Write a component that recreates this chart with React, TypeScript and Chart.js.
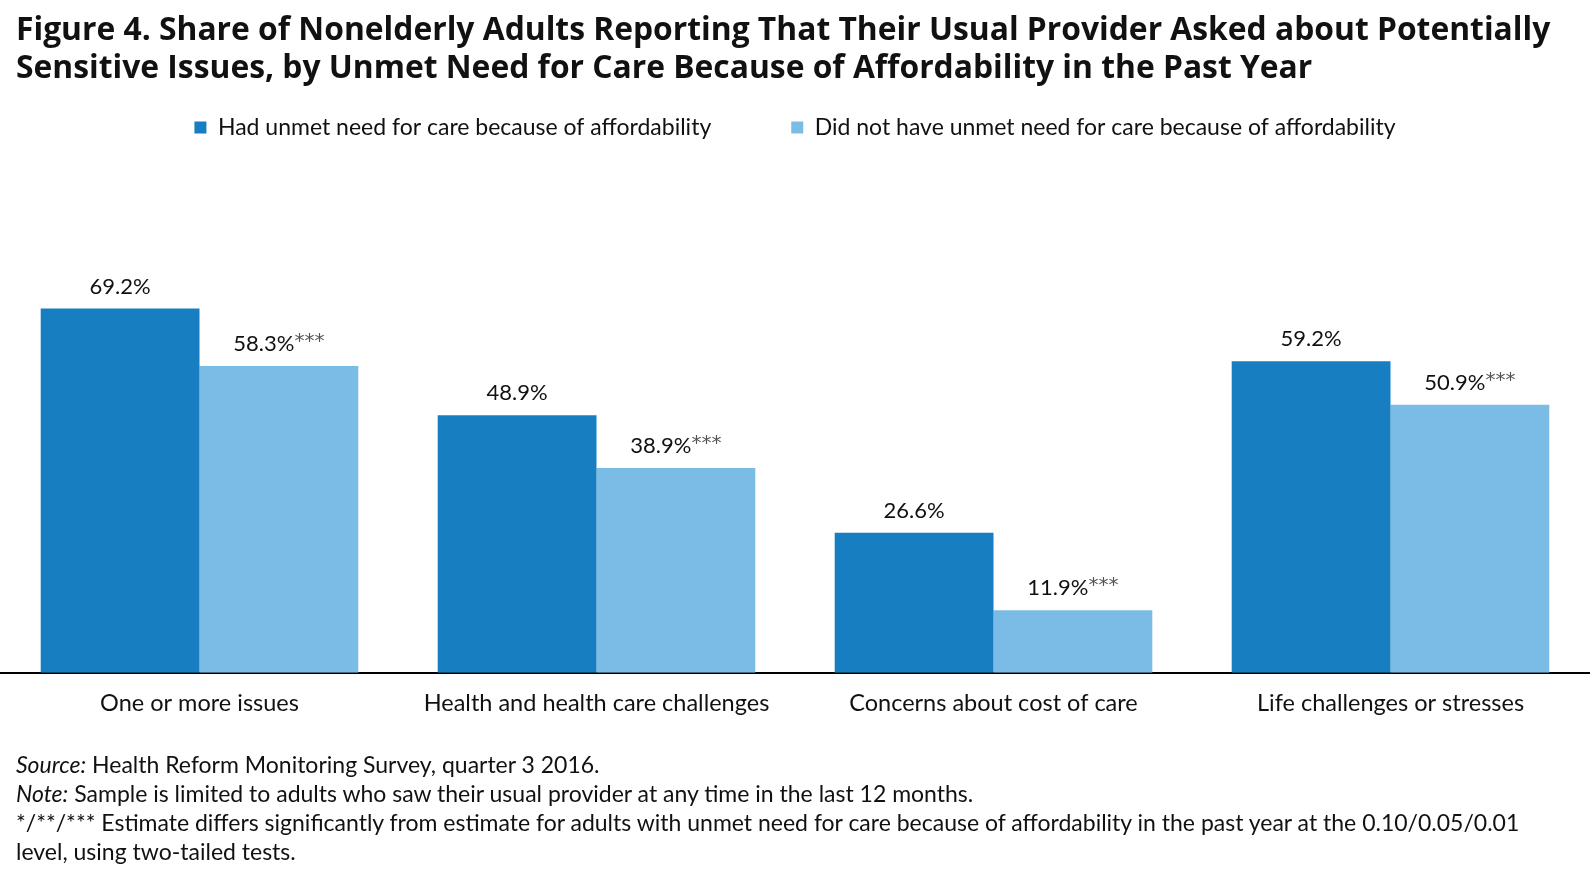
import React, { useEffect, useRef } from "react";
import { Chart, registerables } from "chart.js";

Chart.register(...registerables);

const categories = [
  "One or more issues",
  "Health and health care challenges",
  "Concerns about cost of care",
  "Life challenges or stresses",
];
const seriesNames = [
  "Had unmet need for care because of affordability",
  "Did not have unmet need for care because of affordability",
];
const hadUnmet = [69.2, 48.9, 26.6, 59.2];
const noUnmet = [58.3, 38.9, 11.9, 50.9];
const noUnmetStars = ["***", "***", "***", "***"];
const colors = ["#177FC1", "#7BBCE6"];
const FONT = "Lato, 'Open Sans', sans-serif";

const labelPlugin = {
  id: "barLabels",
  afterDatasetsDraw(chart: any) {
    const ctx = chart.ctx;
    ctx.save();
    ctx.textBaseline = "middle";
    chart.data.datasets.forEach((ds: any, di: number) => {
      const meta = chart.getDatasetMeta(di);
      meta.data.forEach((bar: any, i: number) => {
        const main = `${ds.data[i].toFixed(1)}%`;
        const stars = di === 1 ? noUnmetStars[i] : "";
        ctx.font = `22px ${FONT}`;
        const wMain = ctx.measureText(main).width;
        ctx.font = `20px 'DejaVu Sans', sans-serif`;
        const wStars = stars ? ctx.measureText(stars).width : 0;
        const total = wMain + wStars;
        const x0 = bar.x - total / 2;
        const y = bar.y - 22;
        ctx.textAlign = "left";
        ctx.font = `22px ${FONT}`;
        ctx.fillStyle = "#111";
        ctx.fillText(main, x0, y);
        if (stars) {
          ctx.font = `20px 'DejaVu Sans', sans-serif`;
          ctx.fillStyle = "#555";
          ctx.fillText(stars, x0 + wMain, y - 2);
        }
      });
    });
    ctx.restore();
  },
};

export default function App() {
  const ref = useRef<HTMLCanvasElement>(null);
  useEffect(() => {
    if (!ref.current) return;
    const chart = new Chart(ref.current, {
      type: "bar",
      data: {
        labels: categories,
        datasets: [
          { label: seriesNames[0], data: hadUnmet, backgroundColor: colors[0] },
          { label: seriesNames[1], data: noUnmet, backgroundColor: colors[1] },
        ],
      },
      options: {
        animation: false,
        responsive: false,
        maintainAspectRatio: false,
        devicePixelRatio: 1,
        layout: { padding: { top: 36, left: 1, right: 3, bottom: 139 } },
        datasets: { bar: { categoryPercentage: 0.8, barPercentage: 1.0 } },
        plugins: {
          tooltip: { enabled: false },
          legend: {
            position: "top",
            labels: {
              boxWidth: 12,
              boxHeight: 12,
              padding: 80,
              color: "#111",
              font: { family: FONT, size: 23 },
            },
          },
        },
        scales: {
          x: {
            grid: { display: false, drawTicks: false },
            border: { display: true, color: "#000", width: 2 },
            ticks: { color: "#111", padding: 17, font: { family: FONT, size: 23.5 }, maxRotation: 0 },
          },
          y: {
            display: false,
            min: 0,
            max: 99.5,
          },
        },
      },
      plugins: [labelPlugin],
    });
    return () => chart.destroy();
  }, []);

  return (
    <div style={{ position: "absolute", left: 0, top: 0, width: 1592, height: 874, background: "#fff", overflow: "hidden", fontFamily: FONT, color: "#111" }}>
      <canvas ref={ref} width={1592} height={874} style={{ position: "absolute", left: 0, top: 0, width: 1592, height: 874 }} />
      <div style={{ position: "absolute", left: 16, top: 9, fontFamily: "'Open Sans', sans-serif", fontWeight: 700, fontSize: 31.8, lineHeight: "38px", whiteSpace: "nowrap" }}>
        Figure 4. Share of Nonelderly Adults Reporting That Their Usual Provider Asked about Potentially
        <br />
        Sensitive Issues, by Unmet Need for Care Because of Affordability in the Past Year
      </div>
      <div style={{ position: "absolute", left: 16, top: 750, fontSize: 23, lineHeight: "29px", whiteSpace: "nowrap" }}>
        <div><i>Source:</i> Health Reform Monitoring Survey, quarter 3 2016.</div>
        <div><i>Note:</i> Sample is limited to adults who saw their usual provider at any time in the last 12 months.</div>
        <div>*/**/*** Estimate differs significantly from estimate for adults with unmet need for care because of affordability in the past year at the 0.10/0.05/0.01</div>
        <div>level, using two-tailed tests.</div>
      </div>
    </div>
  );
}
